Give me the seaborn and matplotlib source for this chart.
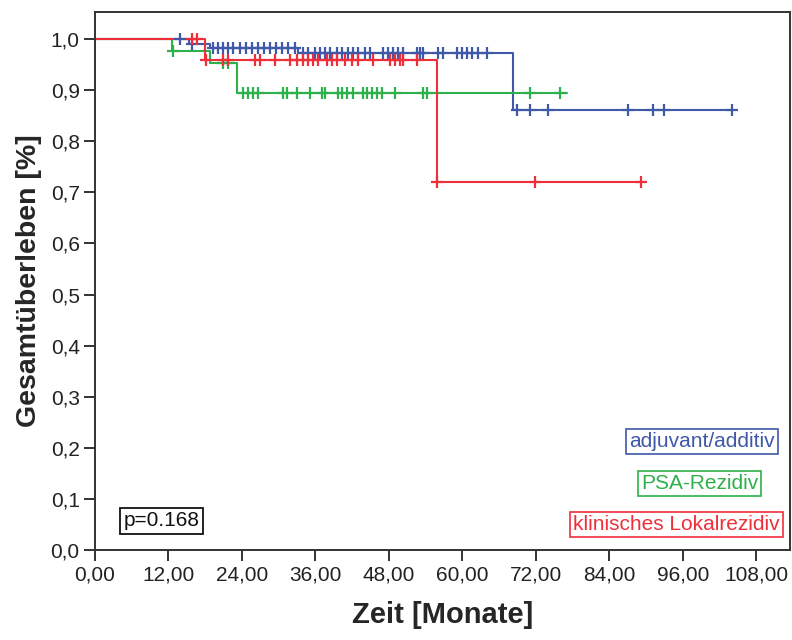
import numpy as np
import pandas as pd
import matplotlib
matplotlib.use("Agg")
import matplotlib.pyplot as plt
import seaborn as sns

# ---- data ----
groups = ["adjuvant/additiv", "PSA-Rezidiv", "klinisches Lokalrezidiv"]
colors = ["#3F58A8", "#2EB04B", "#EE2F3A"]

# step curves: event times and survival after each event
blue_step_t = [0.0, 15.3, 18.8, 33.2, 68.2]
blue_step_s = [1.0, 0.990, 0.983, 0.972, 0.861]
blue_end = 104.0
blue_cens = [13.9, 15.8, 19.3, 20.1, 20.9, 21.7, 22.5, 23.7, 24.7, 25.6, 26.6,
             27.6, 28.6, 29.6, 30.5, 31.5, 32.7, 34.0, 34.8, 35.9, 36.7, 37.6,
             38.4, 39.5, 40.3, 41.3, 42.1, 42.9, 44.1, 44.9, 47.0, 47.8, 48.7,
             49.5, 50.3, 52.6, 53.1, 53.6, 56.0, 56.8, 59.1, 59.9, 60.7, 61.6,
             62.5, 64.0, 68.9, 71.0, 74.0, 87.0, 91.1, 92.9, 104.0]

green_step_t = [0.0, 12.5, 18.8, 23.2]
green_step_s = [1.0, 0.977, 0.953, 0.894]
green_end = 77.1
green_cens = [12.7, 20.9, 21.7, 24.2, 25.0, 25.8, 26.6, 30.7, 31.3, 33.0, 35.1,
              37.1, 37.6, 39.7, 40.3, 41.1, 42.1, 43.8, 44.4, 45.2, 46.0, 46.9,
              49.0, 53.6, 54.2, 71.0, 75.9]

red_step_t = [0.0, 18.0, 55.8]
red_step_s = [1.0, 0.959, 0.720]
red_end = 89.1
red_cens = [15.8, 16.7, 18.1, 20.9, 21.7, 26.1, 26.9, 29.4, 31.8, 33.0, 34.0,
            34.8, 35.6, 36.4, 37.9, 38.7, 39.5, 40.8, 42.0, 42.9, 45.4, 48.2,
            49.0, 49.8, 50.3, 52.6, 55.9, 71.8, 89.1]

p_text = "p=0.168"
x_ticks = [0, 12, 24, 36, 48, 60, 72, 84, 96, 108]
y_ticks = [0.0, 0.1, 0.2, 0.3, 0.4, 0.5, 0.6, 0.7, 0.8, 0.9, 1.0]

# ---- build tables ----
step_rows, cens_rows = [], []
for g, st, ss, end, cen in [
    (groups[0], blue_step_t, blue_step_s, blue_end, blue_cens),
    (groups[1], green_step_t, green_step_s, green_end, green_cens),
    (groups[2], red_step_t, red_step_s, red_end, red_cens),
]:
    for t, s in zip(st + [end], ss + [ss[-1]]):
        step_rows.append((g, t, s))
    st_arr = np.array(st)
    for c in cen:
        idx = np.searchsorted(st_arr, c, side="right") - 1
        cens_rows.append((g, c, ss[idx]))
steps = pd.DataFrame(step_rows, columns=["grp", "t", "s"])
cens = pd.DataFrame(cens_rows, columns=["grp", "t", "s"])

sns.set_style("white")
plt.rcParams["font.family"] = ["Liberation Sans", "DejaVu Sans"]

fig = plt.figure(figsize=(7.92, 6.40), dpi=100)
ax = fig.add_axes([95 / 792, 1 - 550 / 640, 695 / 792, 538 / 640])

pal = dict(zip(groups, colors))
for g in groups:
    d = steps[steps.grp == g]
    sns.lineplot(data=d, x="t", y="s", color=pal[g], drawstyle="steps-post",
                 lw=1.5, sort=False, ax=ax, legend=False, estimator=None)
for g in groups:
    d = cens[cens.grp == g]
    sns.scatterplot(data=d, x="t", y="s", color=pal[g], marker="+", s=85,
                    linewidth=1.6, ax=ax, legend=False, zorder=3)

ax.set_xlim(0, 113.5)
ax.set_ylim(0, 1.053)
ax.set_xticks(x_ticks)
ax.set_xticklabels([f"{v:.2f}".replace(".", ",") for v in x_ticks])
ax.set_yticks(y_ticks)
ax.set_yticklabels([f"{v:.1f}".replace(".", ",") for v in y_ticks])
ax.tick_params(axis="both", direction="out", length=8, width=1.4,
               color="#333333", labelsize=15, labelcolor="#222222",
               bottom=True, left=True, pad=3)
for sp in ax.spines.values():
    sp.set_visible(True)
    sp.set_color("#333333")
    sp.set_linewidth(1.4)

ax.set_xlabel("Zeit [Monate]", fontsize=21, fontweight="bold", labelpad=12)
ax.set_ylabel("Gesamtüberleben [%]", fontsize=20.5, fontweight="bold", labelpad=6)

box_texts = [
    (groups[0], 0.873, 0.201, colors[0]),
    (groups[1], 0.870, 0.124, colors[1]),
    (groups[2], 0.837, 0.047, colors[2]),
]
for txt, xx, yy, c in box_texts:
    ax.text(xx, yy, txt, transform=ax.transAxes, ha="center", va="center",
            fontsize=15, color=c,
            bbox=dict(boxstyle="square,pad=0.15", fc="white", ec=c, lw=1.2))
ax.text(0.0957, 0.054, p_text, transform=ax.transAxes, ha="center", va="center",
        fontsize=15, color="#111111",
        bbox=dict(boxstyle="square,pad=0.15", fc="white", ec="#111111", lw=1.3))

fig.savefig("out.png", dpi=100)
